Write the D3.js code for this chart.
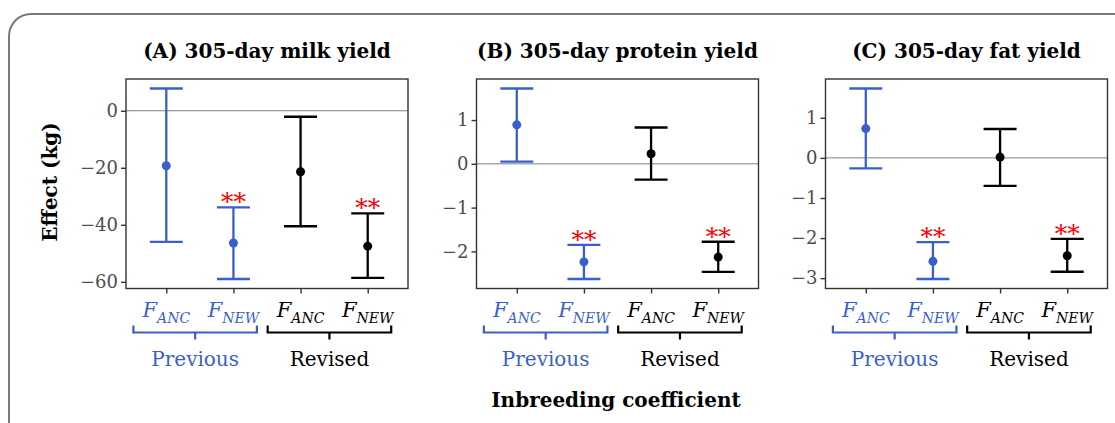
<!DOCTYPE html>
<html>
<head>
<meta charset="utf-8">
<script src="https://cdn.jsdelivr.net/npm/d3@7"></script>
<style>
  body { margin: 0; background: #fff; }
  text { font-family: "DejaVu Serif", serif; }
</style>
</head>
<body>
<svg id="chart" width="1115" height="423"></svg>
<script>
// categories along each x axis
const categories = ['prevANC', 'prevNEW', 'revANC', 'revNEW'];
const subscripts = ['ANC', 'NEW', 'ANC', 'NEW'];
const groups = ['Previous', 'Previous', 'Revised', 'Revised'];
const significant = [false, true, false, true];

const titles = ['(A) 305-day milk yield', '(B) 305-day protein yield', '(C) 305-day fat yield'];

// estimates and 95% limits
const milkMean = [-19.3, -46.4, -21.4, -47.5];
const milkLower = [-46.0, -59.0, -40.5, -58.6];
const milkUpper = [7.8, -33.9, -2.1, -36.0];
const milkTicks = [0, -20, -40, -60];

const proteinMean = [0.89, -2.24, 0.23, -2.13];
const proteinLower = [0.05, -2.63, -0.36, -2.47];
const proteinUpper = [1.72, -1.85, 0.83, -1.78];
const proteinTicks = [1, 0, -1, -2];

const fatMean = [0.73, -2.58, 0.02, -2.44];
const fatLower = [-0.26, -3.02, -0.70, -2.84];
const fatUpper = [1.73, -2.10, 0.72, -2.02];
const fatTicks = [1, 0, -1, -2, -3];

const blue = '#3a5fcd';
const groupColor = g => g === 'Previous' ? blue : '#000';

const svg = d3.select('#chart');

// outer rounded frame
svg.append('rect')
    .attr('x', 9).attr('y', 14)
    .attr('width', 1200).attr('height', 500)
    .attr('rx', 22)
    .attr('fill', 'none')
    .attr('stroke', '#7a7a7a')
    .attr('stroke-width', 2);

const panelLefts = [126, 476.5, 825.5];
const panelWidth = 282;
const plotTop = 79, plotBottom = 288.5;

const panelData = [
    { mean: milkMean, lower: milkLower, upper: milkUpper, ticks: milkTicks },
    { mean: proteinMean, lower: proteinLower, upper: proteinUpper, ticks: proteinTicks },
    { mean: fatMean, lower: fatLower, upper: fatUpper, ticks: fatTicks }
];

panelData.forEach((p, i) => {
    const left = panelLefts[i];
    const right = left + panelWidth;
    const g = svg.append('g');

    const lo = d3.min(p.lower), hi = d3.max(p.upper);
    const pad = (hi - lo) * 0.05;
    const y = d3.scaleLinear().domain([lo - pad, hi + pad]).range([plotBottom, plotTop]);
    const x = d3.scalePoint().domain(categories).range([left, right]).padding(0.6);

    // zero line
    g.append('line')
        .attr('x1', left).attr('x2', right)
        .attr('y1', y(0)).attr('y2', y(0))
        .attr('stroke', '#7f7f7f').attr('stroke-width', 1);

    // y axis
    const yAxis = g.append('g')
        .attr('transform', `translate(${left},0)`)
        .call(d3.axisLeft(y).tickValues(p.ticks).tickSize(5).tickPadding(3)
            .tickFormat(d => d3.format('')(d).replace('-', '\u2212')));
    yAxis.select('.domain').remove();
    yAxis.selectAll('line').attr('stroke', '#333').attr('stroke-width', 1.4);
    yAxis.selectAll('text').attr('fill', '#4d4d4d')
        .style('font-family', '"DejaVu Serif", serif').style('font-size', '18px');

    // x axis ticks
    const xAxis = g.append('g')
        .attr('transform', `translate(0,${plotBottom})`)
        .call(d3.axisBottom(x).tickSize(5).tickFormat(''));
    xAxis.select('.domain').remove();
    xAxis.selectAll('line').attr('stroke', '#333').attr('stroke-width', 1.4);

    // panel frame
    g.append('rect')
        .attr('x', left).attr('y', plotTop)
        .attr('width', panelWidth).attr('height', plotBottom - plotTop)
        .attr('fill', 'none').attr('stroke', '#333').attr('stroke-width', 1.4);

    // error bars
    const capHalf = 16.5;
    const bars = g.selectAll('.bar')
        .data(categories.map((c, k) => ({ c, k })))
        .enter().append('g');
    bars.append('line')
        .attr('x1', d => x(d.c)).attr('x2', d => x(d.c))
        .attr('y1', d => y(p.lower[d.k])).attr('y2', d => y(p.upper[d.k]))
        .attr('stroke', d => groupColor(groups[d.k])).attr('stroke-width', 2.3);
    bars.append('line')
        .attr('x1', d => x(d.c) - capHalf).attr('x2', d => x(d.c) + capHalf)
        .attr('y1', d => y(p.upper[d.k])).attr('y2', d => y(p.upper[d.k]))
        .attr('stroke', d => groupColor(groups[d.k])).attr('stroke-width', 2.3);
    bars.append('line')
        .attr('x1', d => x(d.c) - capHalf).attr('x2', d => x(d.c) + capHalf)
        .attr('y1', d => y(p.lower[d.k])).attr('y2', d => y(p.lower[d.k]))
        .attr('stroke', d => groupColor(groups[d.k])).attr('stroke-width', 2.3);
    bars.append('circle')
        .attr('cx', d => x(d.c)).attr('cy', d => y(p.mean[d.k]))
        .attr('r', 4.5)
        .attr('fill', d => groupColor(groups[d.k]));
    bars.filter(d => significant[d.k]).append('text')
        .attr('x', d => x(d.c)).attr('y', d => y(p.upper[d.k]) + 3)
        .attr('text-anchor', 'middle')
        .attr('fill', '#ff0000')
        .style('font-size', '25px')
        .text('**');

    // title
    g.append('text')
        .attr('x', left + panelWidth / 2).attr('y', 58)
        .attr('text-anchor', 'middle')
        .style('font-size', '20px').style('font-weight', 'bold')
        .text(titles[i]);

    // x tick labels F with subscript
    const lab = g.selectAll('.xlab')
        .data(categories.map((c, k) => ({ c, k })))
        .enter().append('text')
        .attr('x', d => x(d.c)).attr('y', 317)
        .attr('text-anchor', 'middle')
        .attr('fill', d => groupColor(groups[d.k]))
        .style('font-style', 'italic');
    lab.append('tspan').style('font-size', '21px').text('F');
    lab.append('tspan').attr('dy', 6).style('font-size', '14px').text(d => subscripts[d.k]);

    // group brackets
    const step = x.step();
    ['Previous', 'Revised'].forEach(grp => {
        const cats = categories.filter((c, k) => groups[k] === grp);
        const x0 = x(cats[0]) - step * 0.49;
        const x1 = x(cats[cats.length - 1]) + step * 0.35;
        const mid = (x0 + x1) / 2;
        const col = groupColor(grp);
        g.append('path')
            .attr('d', `M${x0},325.5V332.5H${x1}V325.5M${mid},332.5V339.5`)
            .attr('fill', 'none').attr('stroke', col).attr('stroke-width', 2.2);
        g.append('text')
            .attr('x', mid).attr('y', 366)
            .attr('text-anchor', 'middle')
            .attr('fill', col)
            .style('font-size', '20px')
            .text(grp);
    });
});

// axis titles
svg.append('text')
    .attr('transform', 'translate(57,182) rotate(-90)')
    .attr('text-anchor', 'middle')
    .style('font-size', '20px').style('font-weight', 'bold')
    .text('Effect (kg)');

svg.append('text')
    .attr('x', 616).attr('y', 407)
    .attr('text-anchor', 'middle')
    .style('font-size', '20px').style('font-weight', 'bold')
    .text('Inbreeding coefficient');
</script>
</body>
</html>
